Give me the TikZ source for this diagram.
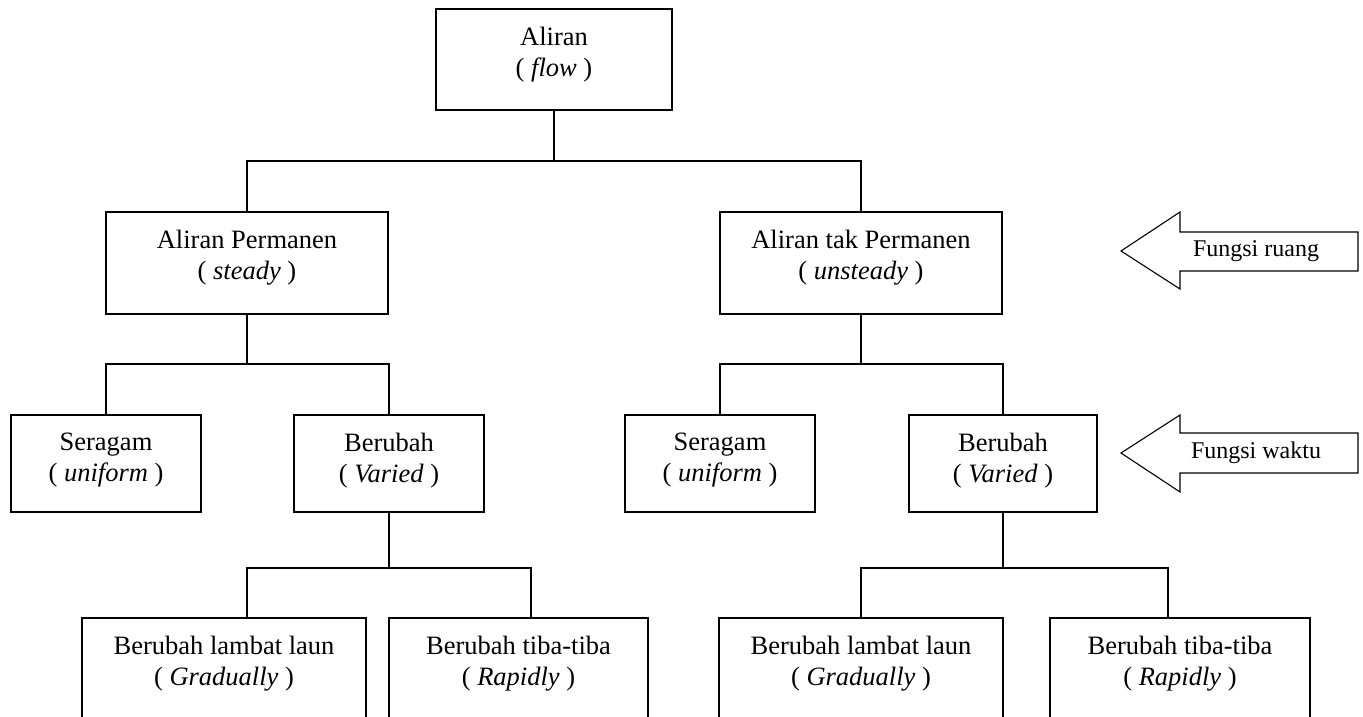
\documentclass[tikz,border=0pt]{standalone}
\usepackage{fontspec}
\setmainfont{Liberation Serif}

\tikzset{
  garis/.style={line width=1.1pt},
  kotak/.style={draw, garis, inner sep=0pt},
  teks/.style={inner sep=0pt, align=center, font=\fontsize{26.5}{31}\selectfont},
  isi/.style={label={[teks, anchor=north, yshift=-18pt]north:{#1}}}
}

\begin{document}
\begin{tikzpicture}[x=1pt, y=-1pt]
            \useasboundingbox (0,0) rectangle (1363,717);
            \clip (0,0) rectangle (1363,717);
            % tingkat 1
            \node[kotak, minimum width=236, minimum height=101, isi={Aliran\\( \textit{flow} )}] (aliran) at (554,59.5) {};
            % tingkat 2
            \node[kotak, minimum width=282, minimum height=102, isi={Aliran Permanen\\( \textit{steady} )}] (permanen) at (247,263) {};
            \node[kotak, minimum width=282, minimum height=102, isi={Aliran tak Permanen\\( \textit{unsteady} )}] (takpermanen) at (861,263) {};
            % tingkat 3
            \node[kotak, minimum width=190, minimum height=97, isi={Seragam\\( \textit{uniform} )}] (seragamA) at (106,463.5) {};
            \node[kotak, minimum width=190, minimum height=97, isi={Berubah\\( \textit{Varied} )}] (berubahA) at (389,463.5) {};
            \node[kotak, minimum width=190, minimum height=97, isi={Seragam\\( \textit{uniform} )}] (seragamB) at (720,463.5) {};
            \node[kotak, minimum width=188, minimum height=97, isi={Berubah\\( \textit{Varied} )}] (berubahB) at (1003,463.5) {};
            % tingkat 4 (terpotong di bawah)
            \node[kotak, minimum width=284, minimum height=140, isi={Berubah lambat laun\\( \textit{Gradually} )}] (lambatA) at (224,688) {};
            \node[kotak, minimum width=259, minimum height=140, isi={Berubah tiba-tiba\\( \textit{Rapidly} )}] (tibaA) at (518.5,688) {};
            \node[kotak, minimum width=284, minimum height=140, isi={Berubah lambat laun\\( \textit{Gradually} )}] (lambatB) at (861,688) {};
            \node[kotak, minimum width=260, minimum height=140, isi={Berubah tiba-tiba\\( \textit{Rapidly} )}] (tibaB) at (1180,688) {};
            % titik cabang
            \coordinate (c1) at (554,161);
            \coordinate (c2) at (247,364);
            \coordinate (c3) at (861,364);
            \coordinate (c4) at (389,568);
            \coordinate (c5) at (1003,568);
            \draw[garis] (aliran.south) -- (c1);
            \draw[garis] (permanen.north) |- (c1) -| (takpermanen.north);
            \draw[garis] (permanen.south) -- (c2);
            \draw[garis] (seragamA.north) |- (c2) -| (berubahA.north);
            \draw[garis] (takpermanen.south) -- (c3);
            \draw[garis] (seragamB.north) |- (c3) -| (berubahB.north);
            \draw[garis] (berubahA.south) -- (c4);
            \draw[garis] ([xshift=23pt]lambatA.north) |- (c4) -| ([xshift=12.5pt]tibaA.north);
            \draw[garis] (berubahB.south) -- (c5);
            \draw[garis] (lambatB.north) |- (c5) -| ([xshift=-12pt]tibaB.north);
            % panah keterangan
            \draw[garis, line join=miter] (1121,251) -- (1180,212) -- (1180,232) -- (1358,232) -- (1358,271) -- (1180,271) -- (1180,289) -- cycle;
            \node[font=\fontsize{24}{28}\selectfont] (ruang) at (1256,251) {Fungsi ruang};
            \draw[garis, line join=miter] (1121,453) -- (1180,415) -- (1180,433) -- (1358,433) -- (1358,473) -- (1180,473) -- (1180,492) -- cycle;
            \node[font=\fontsize{24}{28}\selectfont] (waktu) at (1256,453) {Fungsi waktu};
        \end{tikzpicture}
\end{document}
